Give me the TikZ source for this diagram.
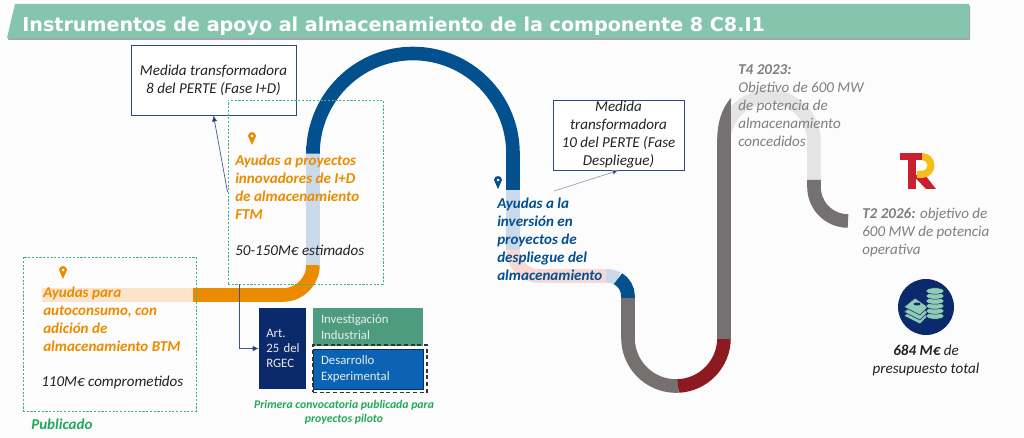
\documentclass[tikz,border=0pt]{standalone}
\usepackage{fontspec}
\setmainfont{Carlito}
\newfontfamily\titlefont{DejaVu Sans}
\usetikzlibrary{arrows.meta}
\definecolor{bannergreen}{HTML}{86C5AD}
\definecolor{dashgreen}{HTML}{3DB57F}
\definecolor{pubgreen}{HTML}{22A85A}
\definecolor{orangetrack}{HTML}{EC8B00}
\definecolor{orangepale}{HTML}{FBE3CC}
\definecolor{bluetrack}{HTML}{03508F}
\definecolor{bluepale}{HTML}{CBDAEA}
\definecolor{pinkpale}{HTML}{F8D8D5}
\definecolor{greytrack}{HTML}{767171}
\definecolor{greypale}{HTML}{E4E4E4}
\definecolor{redtrack}{HTML}{8C1A20}
\definecolor{navybox}{HTML}{0B2A6B}
\definecolor{tealbox}{HTML}{4E9C80}
\definecolor{bluebox}{HTML}{0A63B5}
\definecolor{greytext}{HTML}{7F7F7F}
\definecolor{inktext}{HTML}{222222}
\definecolor{logored}{HTML}{C8202F}
\definecolor{logoyellow}{HTML}{F4BE1B}
\tikzset{
  track/.style={line width=10.2pt},
  label/.style={font=\fontsize{11.3}{13.5}\selectfont\itshape, inner sep=0pt, align=left, anchor=north west},
  orangelabel/.style={label, font=\fontsize{11.3}{13.5}\selectfont\bfseries\itshape, text=orangetrack},
  bluelabel/.style={label, font=\fontsize{11.3}{13.5}\selectfont\bfseries\itshape, text=bluetrack},
  greylabel/.style={label, text=greytext},
  inklabel/.style={label, text=inktext},
  callout/.style={draw=navybox!85, line width=.7pt, fill=white, align=center, inner sep=0pt,
    font=\fontsize{11.3}{13.5}\selectfont\itshape, text=inktext},
  dashbox/.style={draw=dashgreen, line width=.7pt, dash pattern=on 1.6pt off 1.2pt},
  solidbox/.style={inner ysep=0pt, text=white!92!black, align=left,
    font=\fontsize{9.6}{11.5}\selectfont},
  link/.style={draw=navybox!80, line width=.5pt, -{Latex[length=4.5pt,width=4pt,fill=navybox]}},
  pinmark/.pic={
    \fill[pic actions] (-4,0) arc[start angle=180,end angle=360,radius=4] -- (0,9) -- cycle;
    \fill[white] (0,0) circle[radius=1.5];
  }
}
\begin{document}
\begin{tikzpicture}[x=.75pt,y=-.75pt]
  \useasboundingbox (0,0) rectangle (1024,438);
  \fill[white!99!black] (0,0) rectangle (1024,438);

  \fill[black!35] (8,40) -- (16,6) -- (970,6) -- (970,40) -- cycle;
  \fill[bannergreen] (7,38) -- (15,4) -- (969,4) -- (969,38) -- cycle;
  \draw (22,26) node[anchor=west, inner sep=0pt, text=white,
    font=\fontsize{14.35}{16}\selectfont\titlefont\bfseries] (title)
    {Instrumentos de apoyo al almacenamiento de la componente 8 C8.I1};

  \begin{scope}[track]
    \draw[orangepale] (42,295) -- (193,295);
    \draw[orangetrack] (193,295) -- (283,295) arc[start angle=90,end angle=0,radius=30];
    \draw[bluepale] (313,265) -- (313,146);
    \draw[bluetrack] (313,146) -- (313,153.5) arc[start angle=180,end angle=360,radius=100] -- (513,190);
    \draw[bluepale] (513,190) -- (513,250);
    \draw[pinkpale] (513,250) arc[start angle=180,end angle=90,radius=26] -- (606,276);
    \draw[bluepale] (606,276) -- (608,276) arc[start angle=270,end angle=300,radius=20];
    \draw[bluetrack] (618,278.7) arc[start angle=300,end angle=360,radius=20] -- (628,298);
    \draw[greytrack] (628,298) -- (628,338) arc[start angle=180,end angle=87.6,radius=48];
    \draw[redtrack] (678,386) arc[start angle=87.6,end angle=0,radius=48];
    \draw[greypale] (724,141.5) arc[start angle=180,end angle=360,radius=45] -- (814,180);
    \draw[greytrack] (724,338.5) -- (724,140);
    \draw[greytrack] (814,180) -- (814,187) arc[start angle=180,end angle=90,radius=34];
  \end{scope}
  \fill[greytrack] (717.2,141) .. controls (717.2,122) and (722,108) .. (731,98) -- (730.8,141) -- cycle;

  \draw (213.5,80) node[callout, minimum width=123.8pt, minimum height=52.5pt] (med8)
    {Medida transformadora\\8 del PERTE (Fase I+D)};
  \draw (305.5,192) node[dashbox, minimum width=116.3pt, minimum height=138pt] (ftm) {};
  \draw (109.5,334) node[dashbox, minimum width=129.8pt, minimum height=115.5pt] (btm) {};
  \draw (618.5,135) node[callout, minimum width=98.3pt, minimum height=52.5pt] (med10)
    {Medida\\transformadora\\10 del PERTE (Fase\\Despliegue)};

  \draw (282.5,348.5) node[solidbox, fill=navybox, minimum height=60.8pt,
    text width=24.3pt, inner xsep=5.5pt] (art) {Art.\\25~del\\RGEC};
  \draw (368,327) node[solidbox, fill=tealbox, minimum height=28.5pt,
    text width=70.5pt, inner xsep=6pt] (inv) {Investigación\\Industrial};
  \draw (368,369) node[solidbox, fill=bluebox, draw=navybox, line width=.6pt, minimum height=30pt,
    text width=70.5pt, inner xsep=6pt] (des) {Desarrollo\\Experimental};
  \draw (370,368.5) node[draw=black!80, line width=.8pt, dash pattern=on 3pt off 2pt,
    minimum width=85.5pt, minimum height=35.3pt] (pil) {};

  \draw (43,287) node[orangelabel] (btmtext)
    {Ayudas para\\autoconsumo, con\\adición de\\almacenamiento BTM};
  \draw (41,376) node[inklabel] (btmeur) {110M€ comprometidos};
  \draw (31,419) node[label, font=\fontsize{11.3}{13.5}\selectfont\bfseries\itshape, text=pubgreen] (pub) {Publicado};
  \draw (235,155) node[orangelabel] (ftmtext)
    {Ayudas a proyectos\\innovadores de I+D\\de almacenamiento\\FTM};
  \draw (235,245) node[inklabel] (ftmeur) {50-150M€ estimados};
  \draw (344,400) node[label, anchor=north, align=center, text=pubgreen,
    font=\fontsize{8.8}{10.5}\selectfont\bfseries\itshape] (prim)
    {Primera convocatoria publicada para\\proyectos piloto};
  \draw (497,198) node[bluelabel] (inver)
    {Ayudas a la\\inversión en\\proyectos de\\despliegue del\\almacenamiento};
  \draw (738,64) node[greylabel] (t4)
    {\textbf{T4 2023:}\\Objetivo de 600 MW\\de potencia de\\almacenamiento\\concedidos};
  \draw (862,208) node[greylabel] (t2)
    {\textbf{T2 2026:} objetivo de\\600 MW de potencia\\operativa};
  \draw (926,345) node[inklabel, anchor=north, align=center] (total)
    {\textbf{684 M€} de\\presupuesto total};

  \coordinate (inverlink) at (554,191);
  \draw[link] (ftm.west) -- (med8.south);
  \draw[link] ([xshift=9pt]ftm.south west) |- (art.west);
  \draw[link, draw=navybox!45] (inverlink) -- (med10.south);

  \pic[orangetrack] at (252,136) {pinmark};
  \pic[orangetrack] at (63,270) {pinmark};
  \pic[bluetrack] at (498,180) {pinmark};

  \fill[navybox] (926,307) circle[radius=28];
  \begin{scope}[fill=bannergreen!90!white, draw=navybox, line width=.4pt]
    \filldraw (904,316) -- (915,307) -- (928,316) -- (920,324) -- cycle;
    \filldraw (904,312) -- (915,303) -- (928,312) -- (920,320) -- cycle;
    \filldraw (904,307) -- (915,298) -- (928,307) -- (920,315) -- cycle;
    \foreach \ycoin in {316,311,306,301,296,291}
      \filldraw (935,\ycoin) ellipse[x radius=9,y radius=3.2];
  \end{scope}
  \fill[navybox] (917,304) ellipse[x radius=3.5,y radius=1.5];

  \fill[logored] (900,153) rectangle (923,160);
  \fill[logored] (907.5,153) rectangle (915.5,189);
  \fill[logored] (915.5,175) -- (925,175) -- (936,189) -- (926,189) -- (915.5,178) -- cycle;
  \fill[logoyellow] (922,153) arc[start angle=270,end angle=450,radius=12.5] -- (917,178) -- (917,171)
    -- (922,171) arc[start angle=90,end angle=-90,radius=5.5] -- cycle;
\end{tikzpicture}
\end{document}
